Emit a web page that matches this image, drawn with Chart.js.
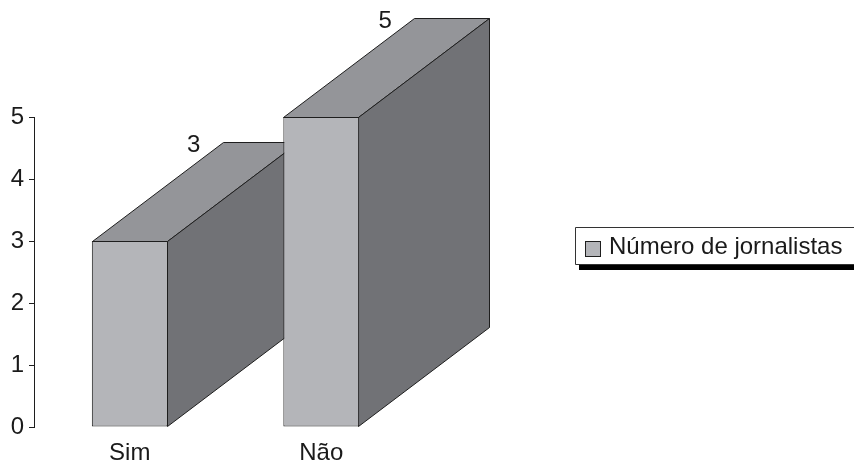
<!DOCTYPE html>
<html>
<head>
<meta charset="utf-8">
<title>Número de jornalistas</title>
<script src="https://cdn.jsdelivr.net/npm/chart.js@4"></script>
<style>
  html, body { margin: 0; padding: 0; background: #ffffff; }
  canvas { display: block; }
</style>
</head>
<body>
<canvas id="chart" width="854" height="464"></canvas>
<script>
// Categories and values
const categories = ['Sim', 'Não'];
const journalists = [3, 5];
const yTickValues = [0, 1, 2, 3, 4, 5];
const seriesLabel = 'Número de jornalistas';

// Styling
const FONT = "'Liberation Sans', Arial, Helvetica, sans-serif";
const TEXT = '#1a1a1a';
const EDGE = '#1e1e1e';
const FRONT = '#b4b5b9';
const TOP = '#949599';
const SIDE = '#717276';
const DEPTH_X = 131;   // horizontal extrusion of the 3D bars
const DEPTH_Y = 99;    // vertical extrusion of the 3D bars

function polygon(ctx, pts, fill) {
  ctx.beginPath();
  ctx.moveTo(pts[0][0], pts[0][1]);
  for (let i = 1; i < pts.length; i++) ctx.lineTo(pts[i][0], pts[i][1]);
  ctx.closePath();
  ctx.fillStyle = fill;
  ctx.fill();
  ctx.lineWidth = 1;
  ctx.strokeStyle = EDGE;
  ctx.stroke();
}

// Top and side faces are drawn behind each bar's front face
const extrusion = {
  id: 'extrusion',
  beforeDatasetsDraw(chart) {
    const ctx = chart.ctx;
    const meta = chart.getDatasetMeta(0);
    ctx.save();
    meta.data.forEach(bar => {
      const p = bar.getProps(['x', 'y', 'base', 'width'], true);
      const l = Math.round(p.x - p.width / 2) + 0.5;
      const r = Math.round(p.x + p.width / 2) - 0.5;
      const t = Math.round(p.y) + 0.5;
      const b = Math.round(p.base) - 0.5;
      polygon(ctx, [[l, t], [l + DEPTH_X, t - DEPTH_Y], [r + DEPTH_X, t - DEPTH_Y], [r, t]], TOP);
      polygon(ctx, [[r, t], [r + DEPTH_X, t - DEPTH_Y], [r + DEPTH_X, b - DEPTH_Y], [r, b]], SIDE);
    });
    ctx.restore();
  },
  afterDatasetsDraw(chart) {
    const ctx = chart.ctx;
    const meta = chart.getDatasetMeta(0);
    const values = chart.data.datasets[0].data;
    ctx.save();
    ctx.font = '24px ' + FONT;
    ctx.fillStyle = TEXT;
    ctx.textAlign = 'center';
    ctx.textBaseline = 'alphabetic';
    meta.data.forEach((bar, i) => {
      const p = bar.getProps(['x', 'y'], true);
      ctx.fillText(String(values[i]), p.x + 64, p.y - 89);
    });
    ctx.restore();
  }
};

// Boxed legend with a drop shadow along its lower edge
const boxedLegend = {
  id: 'boxedLegend',
  afterDraw(chart) {
    const ctx = chart.ctx;
    const ds = chart.data.datasets[0];
    const x = 575, y = 227, h = 37;
    ctx.save();
    ctx.fillStyle = '#000000';
    ctx.fillRect(x + 4, y + h + 1, chart.width - x, 5);
    ctx.fillStyle = '#ffffff';
    ctx.fillRect(x, y, chart.width - x, h);
    ctx.strokeStyle = '#333333';
    ctx.lineWidth = 1;
    ctx.beginPath();
    ctx.moveTo(chart.width, y + 0.5);
    ctx.lineTo(x + 0.5, y + 0.5);
    ctx.lineTo(x + 0.5, y + h + 0.5);
    ctx.lineTo(chart.width, y + h + 0.5);
    ctx.stroke();
    ctx.fillStyle = ds.backgroundColor;
    ctx.fillRect(585, 241, 16, 16);
    ctx.strokeStyle = EDGE;
    ctx.strokeRect(585.5, 241.5, 15, 15);
    ctx.font = '24px ' + FONT;
    ctx.fillStyle = TEXT;
    ctx.textAlign = 'left';
    ctx.textBaseline = 'alphabetic';
    ctx.fillText(ds.label, 609, 254);
    ctx.restore();
  }
};

new Chart(document.getElementById('chart'), {
  type: 'bar',
  data: {
    labels: categories,
    datasets: [{
      label: seriesLabel,
      data: journalists,
      backgroundColor: FRONT,
      borderColor: EDGE,
      borderWidth: 1,
      borderSkipped: false,
      categoryPercentage: 1,
      barPercentage: 0.396
    }]
  },
  options: {
    responsive: false,
    animation: false,
    devicePixelRatio: 1,
    layout: { padding: { top: 117, right: 437, bottom: 0, left: 0 } },
    plugins: {
      legend: { display: false },
      tooltip: { enabled: false }
    },
    scales: {
      x: {
        offset: true,
        grid: { display: false, drawTicks: false },
        border: { display: false },
        ticks: {
          color: TEXT,
          font: { family: FONT, size: 24 },
          padding: 12,
          maxRotation: 0
        },
        afterFit(scale) { scale.height = 37; }
      },
      y: {
        min: 0,
        max: 5,
        afterBuildTicks(scale) { scale.ticks = yTickValues.map(v => ({ value: v })); },
        grid: {
          drawOnChartArea: false,
          drawTicks: true,
          tickLength: 5,
          color: EDGE
        },
        border: { display: true, color: EDGE, width: 1 },
        ticks: {
          color: TEXT,
          font: { family: FONT, size: 24 },
          padding: 5
        },
        afterFit(scale) { scale.width = 34; }
      }
    }
  },
  plugins: [extrusion, boxedLegend]
});
</script>
</body>
</html>
